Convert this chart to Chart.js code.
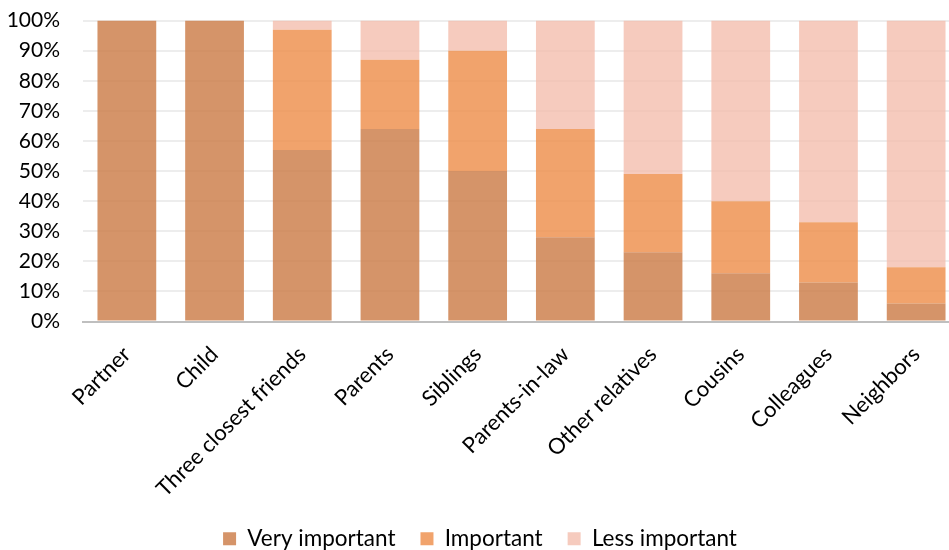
<!DOCTYPE html>
<html>
<head>
<meta charset="utf-8">
<script src="https://cdn.jsdelivr.net/npm/chart.js@4/dist/chart.umd.min.js"></script>
<style>
  html, body { margin: 0; padding: 0; background: #fff; overflow: hidden; }
  #wrap { width: 949px; height: 550px; overflow: hidden; }
  #chart { margin-top: -15px; }
</style>
</head>
<body>
<div id="wrap"><canvas id="chart" width="960" height="577"></canvas></div>
<script>
const categories = ['Partner', 'Child', 'Three closest friends', 'Parents', 'Siblings',
  'Parents-in-law', 'Other relatives', 'Cousins', 'Colleagues', 'Neighbors'];
const veryImportant = [100, 100, 57, 64, 50, 28, 23, 16, 13, 6];
const important = [0, 0, 40, 23, 40, 36, 26, 24, 20, 12];
const lessImportant = [0, 0, 3, 13, 10, 36, 51, 60, 67, 82];
const yTicks = [0, 10, 20, 30, 40, 50, 60, 70, 80, 90, 100];

const family = 'Lato, "Open Sans", sans-serif';

new Chart(document.getElementById('chart'), {
  type: 'bar',
  data: {
    labels: categories,
    datasets: [
      { label: 'Very important', data: veryImportant, backgroundColor: 'rgba(204,124,72,0.82)' },
      { label: 'Important', data: important, backgroundColor: 'rgba(238,144,78,0.83)' },
      { label: 'Less important', data: lessImportant, backgroundColor: 'rgba(243,186,168,0.75)' }
    ]
  },
  options: {
    responsive: false,
    animation: false,
    barPercentage: 0.67,
    categoryPercentage: 1,
    layout: { padding: { top: 0, right: 0, left: 0, bottom: 2 } },
    scales: {
      x: {
        stacked: true,
        grid: { display: false },
        border: { color: '#BFBFBF', width: 2 },
        ticks: { color: '#000', font: { family, size: 22 }, maxRotation: 45, minRotation: 45, padding: 12 },
        afterFit: (scale) => { scale.height = 181; }
      },
      y: {
        stacked: true,
        min: 0,
        max: 100,
        z: 1,
        afterBuildTicks: (scale) => { scale.ticks = yTicks.map((v) => ({ value: v })); },
        afterFit: (scale) => { scale.width = 83; },
        grid: { color: 'rgba(0,0,0,0.07)', lineWidth: 2, drawTicks: false },
        border: { display: false },
        ticks: { color: '#000', font: { family, size: 21 }, padding: 23, callback: (v) => v + '%' }
      }
    },
    plugins: {
      tooltip: { enabled: false },
      legend: {
        position: 'bottom',
        labels: { color: '#000', font: { family, size: 22.5 }, boxWidth: 13, boxHeight: 13, padding: 25 }
      }
    }
  }
});
</script>
</body>
</html>
